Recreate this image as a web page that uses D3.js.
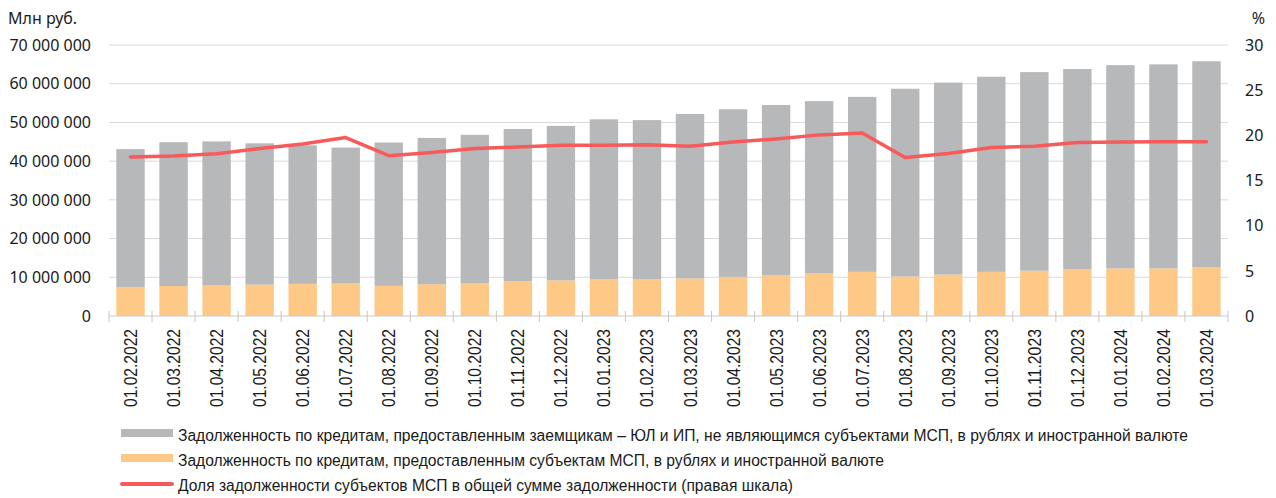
<!DOCTYPE html>
<html>
<head>
<meta charset="utf-8">
<script src="https://cdn.jsdelivr.net/npm/d3@7"></script>
<style>
  body { margin: 0; background: #fff; }
  svg text { fill: #1a1a1a; }
</style>
</head>
<body>
<div id="chart"></div>
<script>
// data, values in "Млн руб." and %
var dates = ["01.02.2022", "01.03.2022", "01.04.2022", "01.05.2022", "01.06.2022", "01.07.2022",
    "01.08.2022", "01.09.2022", "01.10.2022", "01.11.2022", "01.12.2022", "01.01.2023",
    "01.02.2023", "01.03.2023", "01.04.2023", "01.05.2023", "01.06.2023", "01.07.2023",
    "01.08.2023", "01.09.2023", "01.10.2023", "01.11.2023", "01.12.2023", "01.01.2024",
    "01.02.2024", "01.03.2024"];
var smeDebt = [7.5, 7.75, 7.9, 8.1, 8.3, 8.5, 7.8, 8.2, 8.5, 9.0, 9.2, 9.5, 9.5, 9.7, 10.1, 10.6,
    11.0, 11.4, 10.2, 10.7, 11.4, 11.7, 12.1, 12.3, 12.3, 12.6].map(function (v) { return v * 1e6; });
var otherDebt = [35.6, 37.15, 37.2, 36.5, 35.8, 35.0, 37.0, 37.8, 38.3, 39.3, 39.9, 41.3, 41.1, 42.5,
    43.3, 43.9, 44.5, 45.2, 48.5, 49.6, 50.4, 51.3, 51.7, 52.5, 52.7, 53.2].map(function (v) { return v * 1e6; });
var smeShare = [17.6, 17.7, 17.95, 18.55, 19.05, 19.75, 17.75, 18.1, 18.55, 18.7, 18.9, 18.9, 18.95,
    18.8, 19.25, 19.6, 20.05, 20.25, 17.55, 18.0, 18.65, 18.8, 19.2, 19.25, 19.3, 19.3];
var leftTicks = [0, 10e6, 20e6, 30e6, 40e6, 50e6, 60e6, 70e6];
var rightTicks = [0, 5, 10, 15, 20, 25, 30];
var legendItems = [
    {text: "Задолженность по кредитам, предоставленным заемщикам – ЮЛ и ИП, не являющимся субъектами МСП, в рублях и иностранной валюте", kind: "rect", color: "#b7b8ba", len: 1010},
    {text: "Задолженность по кредитам, предоставленным субъектам МСП, в рублях и иностранной валюте", kind: "rect", color: "#fec987", len: 706},
    {text: "Доля задолженности субъектов МСП в общей сумме задолженности (правая шкала)", kind: "line", color: "#f75a5b", len: 615}
];

var svg = d3.select('#chart')
    .append('svg')
    .attr('width', 1276)
    .attr('height', 498);

var plot = {left: 109, right: 1228, top: 45, bottom: 316};
var numFont = "'Noto Sans', sans-serif";
var narrowFont = "'Liberation Sans Narrow', 'Liberation Sans', Arial, sans-serif";

var x = d3.scaleBand()
    .domain(dates)
    .range([plot.left, plot.right])
    .paddingInner(0.34)
    .paddingOuter(0.17);
var y = d3.scaleLinear().domain([0, 70e6]).range([plot.bottom, plot.top]);
var y2 = d3.scaleLinear().domain([0, 30]).range([plot.bottom, plot.top]);

// gridlines
svg.append("g")
    .selectAll("line")
    .data(leftTicks.slice(1))
    .enter().append("line")
    .attr("x1", plot.left).attr("x2", plot.right)
    .attr("y1", function (d) { return y(d); })
    .attr("y2", function (d) { return y(d); })
    .attr("stroke", "#d9d9d9")
    .attr("stroke-width", 1);

// left axis labels
var fmt = function (d) { return d3.format(",")(d).replace(/,/g, " "); };
svg.append("g")
    .selectAll("text")
    .data(leftTicks)
    .enter().append("text")
    .attr("x", 91)
    .attr("y", function (d) { return y(d); })
    .attr("dy", "0.36em")
    .attr("text-anchor", "end")
    .style("font-family", numFont)
    .style("font-size", "16px")
    .text(fmt);

svg.append("text")
    .attr("x", 8).attr("y", 24)
    .style("font-family", numFont)
    .style("font-size", "16px")
    .text("Млн руб.");

// right axis labels
svg.append("g")
    .selectAll("text")
    .data(rightTicks)
    .enter().append("text")
    .attr("x", 1245)
    .attr("y", function (d) { return y2(d); })
    .attr("dy", "0.36em")
    .style("font-family", numFont)
    .style("font-size", "16px")
    .text(function (d) { return d; });

svg.append("text")
    .attr("x", 1265).attr("y", 24)
    .attr("text-anchor", "end")
    .style("font-family", numFont)
    .style("font-size", "16px")
    .text("%");

// stacked bars
var bars = svg.append("g");
bars.selectAll(".sme")
    .data(dates)
    .enter().append("rect")
    .attr("class", "sme")
    .attr("x", function (d) { return x(d); })
    .attr("width", x.bandwidth())
    .attr("y", function (d, i) { return y(smeDebt[i]); })
    .attr("height", function (d, i) { return y(0) - y(smeDebt[i]); })
    .attr("fill", "#fec987");
bars.selectAll(".other")
    .data(dates)
    .enter().append("rect")
    .attr("class", "other")
    .attr("x", function (d) { return x(d); })
    .attr("width", x.bandwidth())
    .attr("y", function (d, i) { return y(smeDebt[i] + otherDebt[i]); })
    .attr("height", function (d, i) { return y(smeDebt[i]) - y(smeDebt[i] + otherDebt[i]); })
    .attr("fill", "#b7b8ba");

// x axis line and ticks between categories
var step = x.step();
var boundaries = dates.map(function (d) { return x(d) - step * x.paddingInner() / 2; });
boundaries[0] = plot.left;
boundaries.push(plot.right);
var xAxis = svg.append("g");
xAxis.append("line")
    .attr("x1", plot.left).attr("x2", plot.right)
    .attr("y1", plot.bottom).attr("y2", plot.bottom)
    .attr("stroke", "#c8c8c8");
xAxis.selectAll(".tick")
    .data(boundaries)
    .enter().append("line")
    .attr("x1", function (d) { return d; })
    .attr("x2", function (d) { return d; })
    .attr("y1", plot.bottom - 5).attr("y2", plot.bottom + 6)
    .attr("stroke", "#c8c8c8");

xAxis.selectAll("text")
    .data(dates)
    .enter().append("text")
    .attr("transform", function (d) {
        return "translate(" + (x(d) + x.bandwidth() / 2 + 6.5) + "," + 329 + ") rotate(-90)";
    })
    .attr("text-anchor", "end")
    .attr("textLength", 78)
    .attr("lengthAdjust", "spacingAndGlyphs")
    .style("font-family", narrowFont)
    .style("font-size", "18px")
    .text(function (d) { return d; });

// share line on right scale
var line = d3.line()
    .x(function (d, i) { return x(dates[i]) + x.bandwidth() / 2; })
    .y(function (d) { return y2(d); });
svg.append("path")
    .datum(smeShare)
    .attr("d", line)
    .attr("fill", "none")
    .attr("stroke", "#f75a5b")
    .attr("stroke-width", 3.5)
    .attr("stroke-linejoin", "round")
    .attr("stroke-linecap", "round");

// legend
var legend = svg.append("g");
legendItems.forEach(function (item, i) {
    var base = 441 + i * 25;
    if (item.kind == "rect") {
        legend.append("rect")
            .attr("x", 121).attr("y", base - 12)
            .attr("width", 52).attr("height", 8)
            .attr("fill", item.color);
    } else {
        legend.append("line")
            .attr("x1", 122).attr("x2", 172)
            .attr("y1", base - 7).attr("y2", base - 7)
            .attr("stroke", item.color)
            .attr("stroke-width", 4)
            .attr("stroke-linecap", "round");
    }
    legend.append("text")
        .attr("x", 178).attr("y", base)
        .attr("textLength", item.len)
        .attr("lengthAdjust", "spacingAndGlyphs")
        .style("font-family", narrowFont)
        .style("font-size", "16px")
        .text(item.text);
});
</script>
</body>
</html>
